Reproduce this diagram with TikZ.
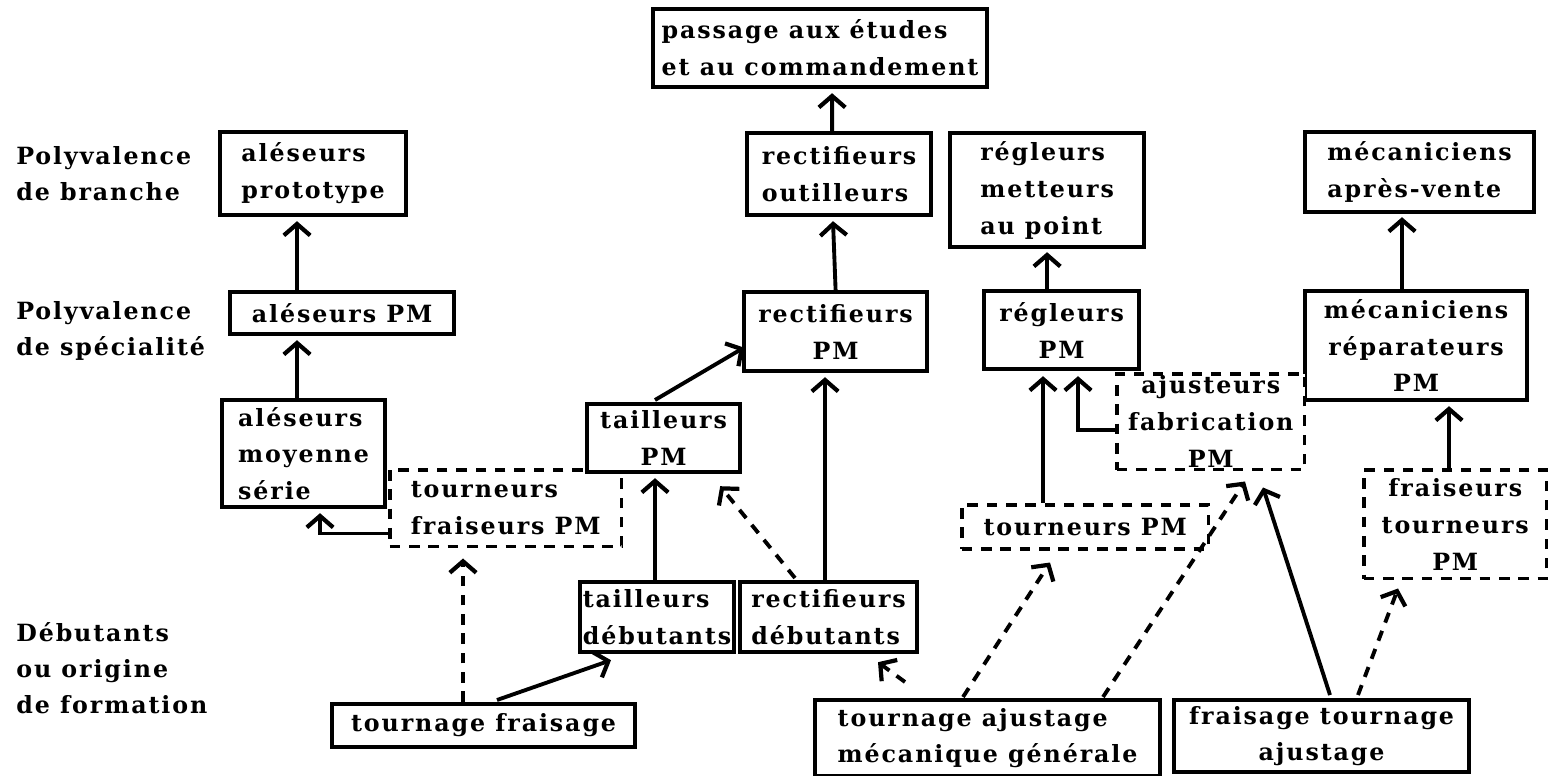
\documentclass[tikz,border=0pt]{standalone}
\usepackage{fontspec}
\setmainfont{DejaVu Serif}[LetterSpace=8]
\usetikzlibrary{
arrows.meta,
calc,
positioning
}

\begin{document}
\begin{tikzpicture}
[x=0.02cm, y=-0.02cm,
block_normal/.style ={ rectangle, draw, line width=2.4pt, fill=white, anchor=north west, align=center, inner sep=1pt, font=\bfseries\fontsize{13.5}{21}\selectfont},
block_dashed/.style ={ block_normal, line width=2pt, dash pattern=on 6pt off 5pt},
block_label/.style ={ rectangle, draw=none, anchor=west, align=left, inner sep=0pt, font=\bfseries\fontsize{13.5}{20.5}\selectfont},
line_inner/.style ={draw, line width=2.2pt, -{Straight Barb[length=6.5pt, width=15pt, line width=2.4pt]}},
line_dashed/.style ={line_inner, dash pattern=on 6pt off 5pt}
]
\useasboundingbox (0,0) rectangle (1548,776);

%%%Ebenen%%%
\node [block_label] (20) at (16,174) {Polyvalence\\de branche};
\node [block_label] (30) at (16,331) {Polyvalence\\de spécialité};
\node [block_label] (60) at (16,668) {Débutants\\ou origine\\de formation};

% row 1
\node [block_normal, align=left, minimum width=6.68cm, minimum height=1.56cm] (14) at (651,7) {passage aux études\\et au commandement};
% row 2
\node [block_normal, align=left, minimum width=3.72cm, minimum height=1.66cm] (21) at (218,130) {aléseurs\\prototype};
\node [block_normal, align=left, minimum width=3.68cm, minimum height=1.64cm] (23) at (745,131) {rectifieurs\\outilleurs};
\node [block_normal, align=left, minimum width=3.88cm, minimum height=2.28cm] (24) at (948,131) {régleurs\\metteurs\\au point};
\node [block_normal, align=left, minimum width=4.58cm, minimum height=1.60cm] (25) at (1303,130) {mécaniciens\\après-vente};
% row 3
\node [block_normal, minimum width=4.48cm, minimum height=0.84cm] (31) at (228,290) {aléseurs PM};
\node [block_normal, minimum width=3.66cm, minimum height=1.58cm] (33) at (742,290) {rectifieurs\\PM};
\node [block_normal, minimum width=3.10cm, minimum height=1.56cm] (34) at (982,289) {régleurs\\PM};
\node [block_normal, minimum width=4.44cm, minimum height=2.18cm] (35) at (1303,289) {mécaniciens\\réparateurs\\PM};
% row 4
\node [block_normal, align=left, minimum width=3.26cm, minimum height=2.14cm] (41) at (220,398) {aléseurs\\moyenne\\série};
\node [block_dashed, align=left, minimum width=4.64cm, minimum height=1.54cm] (42) at (388,468) {tourneurs\\fraiseurs PM};
\node [block_normal, minimum width=3.06cm, minimum height=1.36cm] (43) at (585,402) {tailleurs\\PM};
\node [block_dashed, minimum width=3.76cm, minimum height=1.92cm] (44) at (1115,372) {ajusteurs\\fabrication\\PM};
% row 5
\node [block_dashed, minimum width=4.94cm, minimum height=0.88cm] (54) at (960,503) {tourneurs PM};
\node [block_dashed, minimum width=3.66cm, minimum height=2.18cm] (55) at (1362,468) {fraiseurs\\tourneurs\\PM};
% row 6
\node [block_normal, align=left, minimum width=3.08cm, minimum height=1.40cm] (62) at (578,580) {tailleurs\\débutants};
\node [block_normal, align=left, minimum width=3.54cm, minimum height=1.40cm] (63) at (738,580) {rectifieurs\\débutants};
% row 7
\node [block_normal, minimum width=6.06cm, minimum height=0.86cm] (72) at (330,702) {tournage fraisage};
\node [block_normal, align=left, minimum width=6.90cm, minimum height=1.52cm] (74) at (813,698) {tournage ajustage\\mécanique générale};
\node [block_normal, minimum width=5.90cm, minimum height=1.44cm] (75) at (1172,698) {fraisage tournage\\ajustage};

%%Pfeile%%%
\draw[line_inner] ($(23.north)+(-7,0)$) -- ($(14.south)+(12,4)$);
\draw[line_inner] ($(31.north west)+(69,0)$) -- ($(21.south west)+(79,4)$);
\draw[line_inner] ($(41.north west)+(77,0)$) -- ($(31.south west)+(69,4)$);
\draw[line_inner] (33.north) -- ($(23.south west)+(88,4)$);
\draw[line_inner] ($(43.north west)+(70,-2)$) -- ($(33.west)+(2,16)$);
\draw[line_inner] ($(62.north west)+(77,0)$) -- ($(43.south west)+(70,4)$);
\draw[line_dashed] ($(63.north west)+(57,-2)$) -- ($(43.south east)+(-22,12)$);
\draw[line_inner] ($(63.north west)+(87,0)$) -- ($(33.south west)+(83,4)$);
\draw[line_inner] ($(42.south west)+(0,-15)$) -| ($(41.south west)+(100,4)$);
\draw[line_dashed] ($(72.north west)+(133,0)$) -- ($(42.south west)+(75,10)$);
\draw[line_inner] ($(72.north west)+(167,-2)$) -- ($(62.south west)+(33,6)$);
\draw[line_inner] ($(54.north west)+(83,0)$) -- ($(34.south west)+(61,5)$);
\draw[line_inner] ($(44.west)+(0,8)$) -| ($(34.south west)+(96,5)$);
\draw[line_inner] (24.south |- 34.north) -- ($(24.south)+(0,3)$);
\draw[line_dashed] ($(74.north west)+(92,-16)$) -- ($(63.south west)+(140,8)$);
\draw[line_dashed] ($(74.north west)+(150,-1)$) -- ($(54.south west)+(90,12)$);
\draw[line_dashed] ($(74.north west)+(290,-1)$) -- ($(44.south west)+(130,10)$);
\draw[line_inner] ($(75.north west)+(158,-3)$) -- ($(44.south west)+(148,16)$);
\draw[line_dashed] ($(75.north west)+(186,-3)$) -- ($(55.south west)+(36,8)$);
\draw[line_inner] ($(55.north west)+(87,0)$) -- ($(35.south west)+(146,4)$);
\draw[line_inner] ($(35.north west)+(99,0)$) -- ($(25.south west)+(99,3)$);

\end{tikzpicture}
\end{document}
